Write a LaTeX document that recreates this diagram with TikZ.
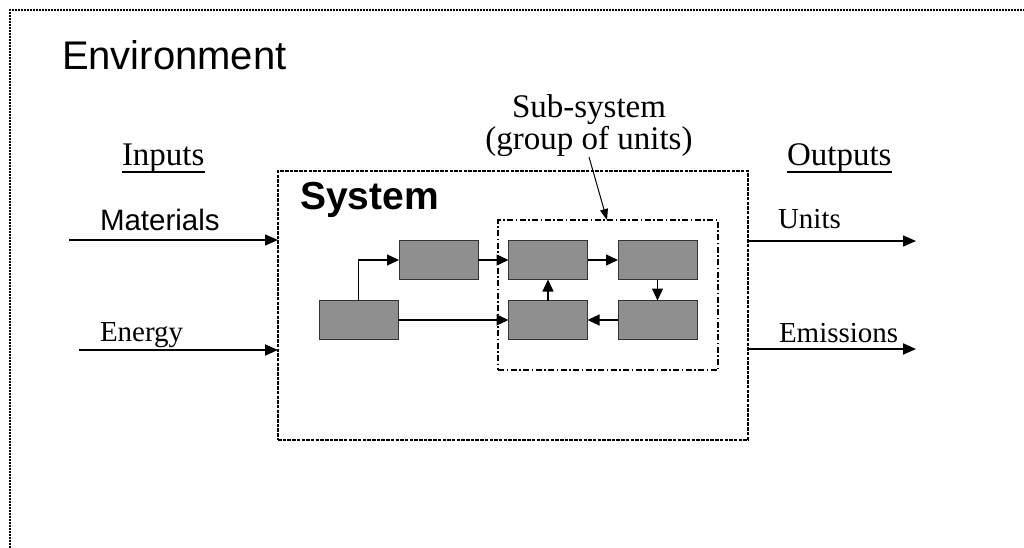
\documentclass[tikz,border=0pt]{standalone}
\usepackage{fontspec}
\setmainfont{Liberation Serif}
\setsansfont{Liberation Sans}
\usetikzlibrary{arrows.meta,calc}
\definecolor{unitgray}{HTML}{8F8F8F}
\begin{document}
\begin{tikzpicture}[x=1pt,y=-1pt,
  every node/.style={inner sep=0pt, outer sep=0pt},
  serifL/.style={font=\fontsize{33}{29}\selectfont},
  serifM/.style={font=\fontsize{29}{34}\selectfont},
  unitbox/.style={draw=black!80, fill=unitgray, line width=1pt, minimum width=79pt, minimum height=39pt},
  flow/.style={line width=1.3pt, -{Triangle[length=12pt,width=11pt]}},
  ioarrow/.style={line width=1.5pt, -{Triangle[length=13pt,width=11pt]}},
  sysframe/.style={draw, line width=1.6pt, dash pattern=on 3.5pt off 1.2pt, minimum width=470pt, minimum height=269pt},
  subframe/.style={draw, line width=1.6pt, dash pattern=on 6pt off 2.5pt on 1.5pt off 2.5pt, minimum width=220pt, minimum height=150pt},
  envframe/.style={line width=1.6pt, dash pattern=on 1.6pt off 1.4pt}]
\useasboundingbox (0,0) rectangle (1024,548);
\fill[white] (0,0) rectangle (1024,548);
% environment frame (open to right and bottom)
\draw[envframe] (10,548) -- (10,10) -- (1024,10);
\node[anchor=base west, font=\sffamily\fontsize{40}{46}\selectfont] (env) at (62,70) {Environment};

% system
\node[sysframe] (sys) at (513,305.5) {};
\node[anchor=base west, font=\sffamily\bfseries\fontsize{39}{44}\selectfont] (syslbl) at (300,209) {System};

% subsystem
\node[subframe] (sub) at (608,295) {};
\node[serifL, align=center, anchor=north] (subl) at (589,95) {Sub-system\\(group of units)};
\coordinate (ptr) at (589,157);
\coordinate (ptrend) at (607,220);
\draw[line width=1pt, -{Triangle[length=11pt,width=8pt]}] (ptr) -- (ptrend);

% units
\node[unitbox] (A) at (358.5,320) {};
\node[unitbox] (B) at (438.5,260) {};
\node[unitbox] (C) at (548,260) {};
\node[unitbox] (D) at (657.5,260) {};
\node[unitbox] (E) at (548,320) {};
\node[unitbox] (F) at (657.5,320) {};

\draw[flow] (A.north) |- (B.west);
\draw[flow] (B.east) -- (C.west);
\draw[flow] (C.east) -- (D.west);
\draw[flow] (D.south) -- (F.north);
\draw[flow] (F.west) -- (E.east);
\draw[flow] (E.north) -- (C.south);
\draw[flow] (A.east) -- (E.west);

% inputs
\node[serifL, anchor=base west] (inp) at (122,166) {Inputs};
\draw[line width=1.8pt] ([yshift=-6pt]inp.base west) -- ([yshift=-6pt]inp.base east);
\node[anchor=base west, font=\sffamily\fontsize{29.5}{34}\selectfont] (mat) at (100,230) {Materials};
\node[serifM, anchor=base west] (ene) at (100,341) {Energy};
\coordinate (matS) at (69,240);
\coordinate (eneS) at (79,350);
\draw[ioarrow] (matS) -- (matS -| sys.west);
\draw[ioarrow, line width=2pt] (eneS) -- (eneS -| sys.west);

% outputs
\node[serifL, anchor=base west] (outp) at (787,166) {Outputs};
\draw[line width=1.8pt] ([yshift=-6pt]outp.base west) -- ([yshift=-6pt]outp.base east);
\node[serifM, anchor=base west] (uni) at (778,228) {Units};
\node[serifM, anchor=base west] (emi) at (779,342) {Emissions};
\coordinate (uniE) at (916,241);
\coordinate (emiE) at (916,349);
\draw[ioarrow] (uniE -| sys.east) -- (uniE);
\draw[ioarrow, line width=2pt] (emiE -| sys.east) -- (emiE);
\end{tikzpicture}
\end{document}
